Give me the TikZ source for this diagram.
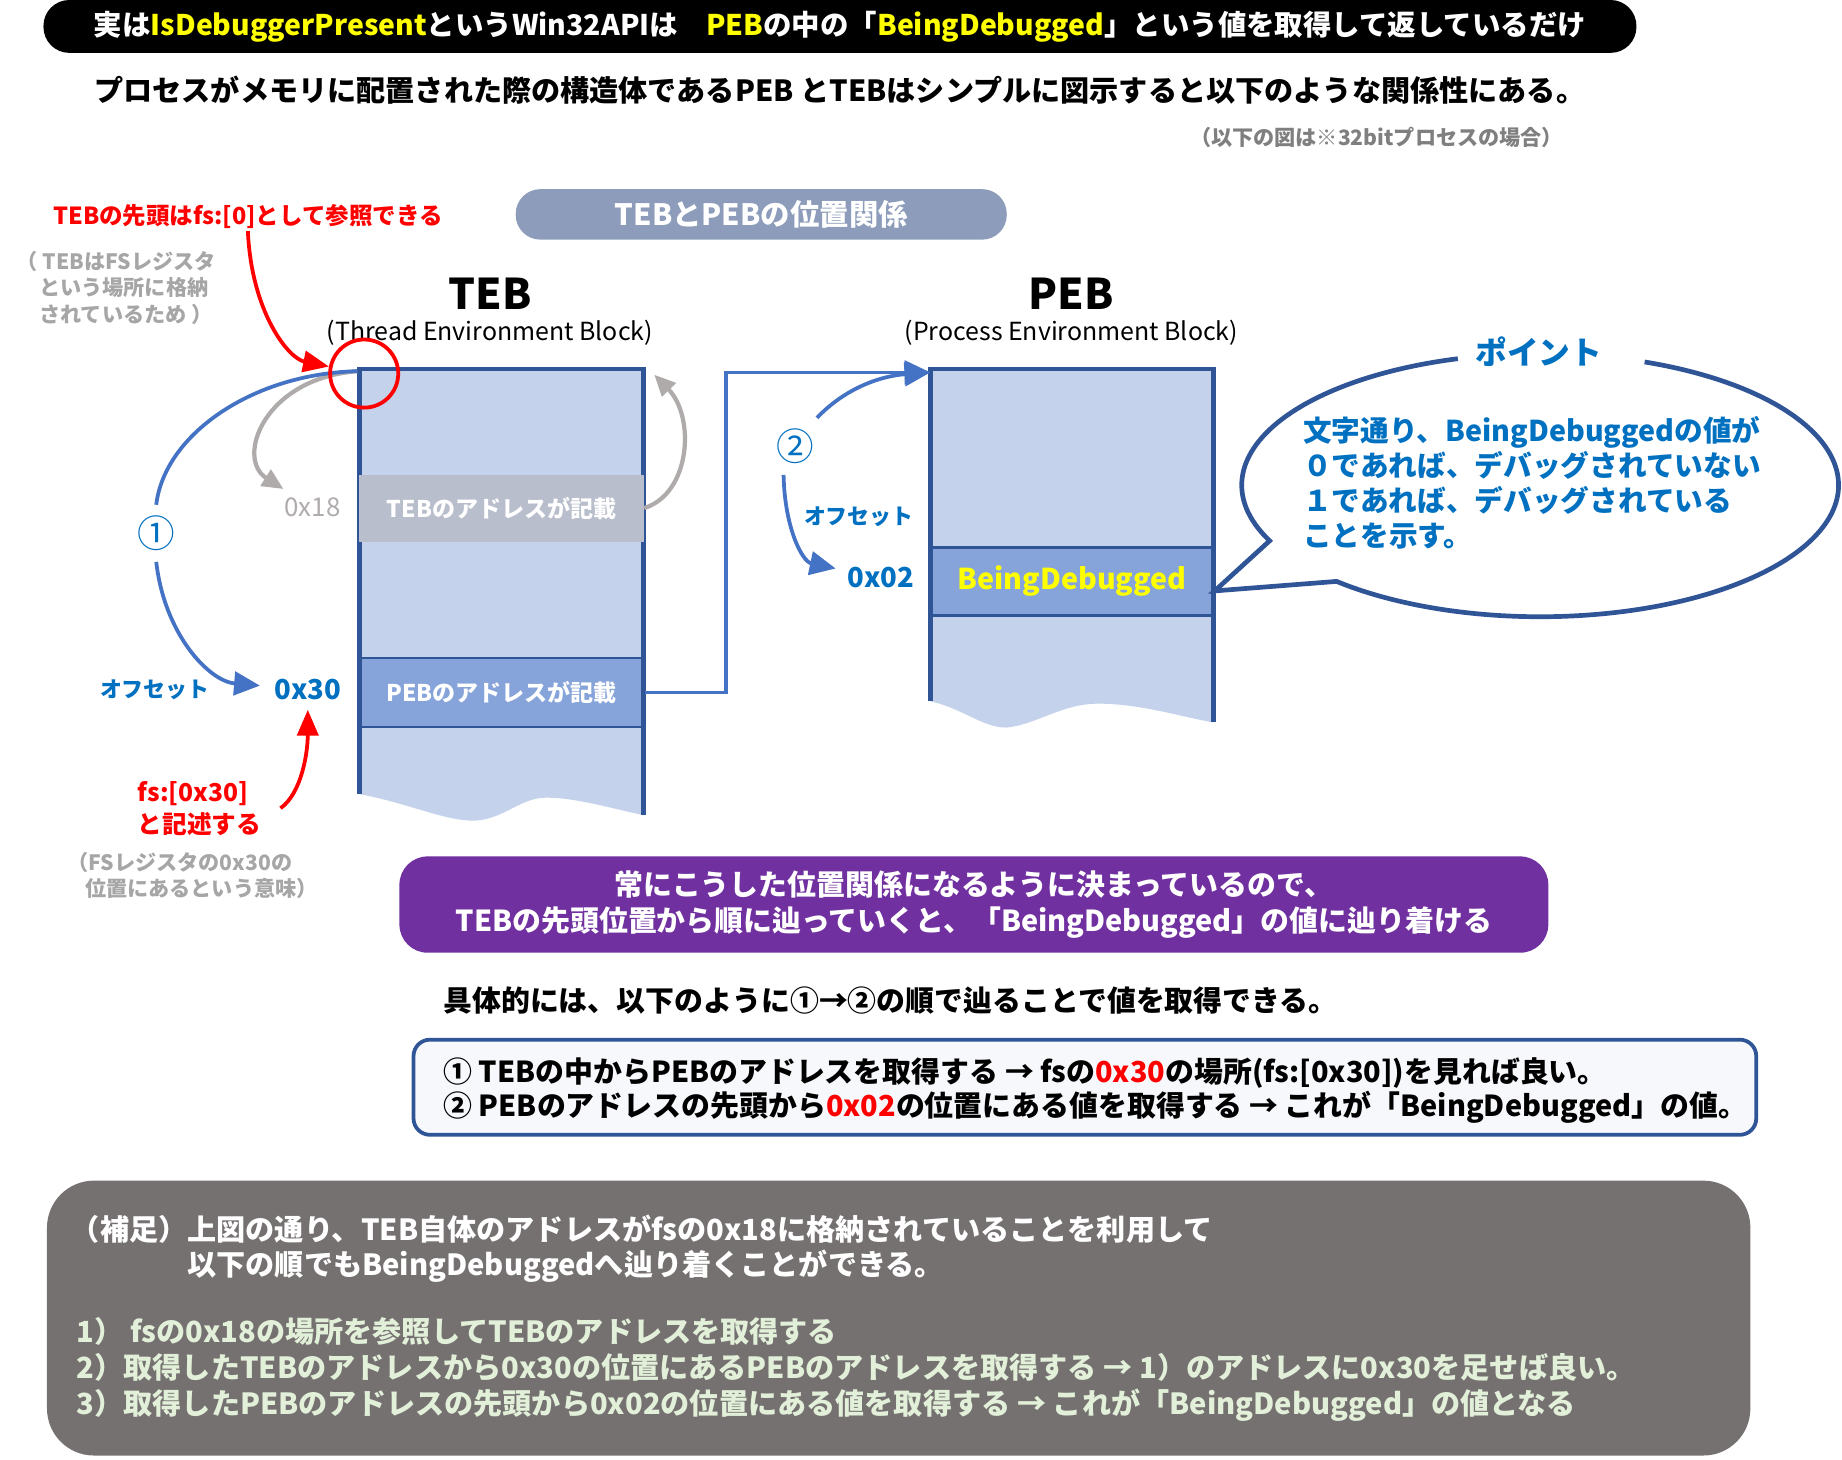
\documentclass[tikz,border=0pt]{standalone}
\usepackage{fontspec}
\setmainfont{Noto Sans CJK JP}
\usepackage{tikz}
\usetikzlibrary{arrows.meta, positioning}
\definecolor{boxfill}{HTML}{C4D3EB}
\definecolor{rowblue}{HTML}{86A4D9}
\definecolor{rowgray}{HTML}{B8BECB}
\definecolor{boxline}{HTML}{2F5597}
\definecolor{arrblue}{HTML}{4472C4}
\definecolor{txtblue}{HTML}{0070C0}
\definecolor{pillgray}{HTML}{8D9CBA}
\definecolor{notegray}{HTML}{767171}
\definecolor{notegreen}{HTML}{E2F0D9}
\definecolor{ltgray}{HTML}{A6A6A6}
\definecolor{midgray}{HTML}{7F7F7F}
\definecolor{arrgray}{HTML}{AFABAB}
\definecolor{stepfill}{HTML}{F7F8FC}
\definecolor{purp}{HTML}{7030A0}
\definecolor{yel}{HTML}{FFFF00}
\definecolor{redc}{HTML}{FF0000}
\newcommand{\fsz}[2]{\fontsize{#1}{#2}\selectfont}

\begin{document}
\begin{tikzpicture}[x=0.5pt, y=-0.5pt, font=\bfseries,
  brd/.style={draw=boxline, line width=2pt},
  row/.style={minimum width=121pt, minimum height=29pt, inner sep=0pt, text=white, font=\fsz{9.8}{12}\bfseries},
  bline/.style={draw=arrblue, line width=1.6pt},
  barrow/.style={bline, -{Triangle[length=11pt, width=10pt]}},
  garrow/.style={draw=arrgray, line width=1.8pt, -{Triangle[length=9pt, width=8pt]}},
  rarrow/.style={draw=redc, line width=1.6pt, -{Triangle[length=11pt, width=9pt]}},
  hex/.style={text=txtblue, font=\fsz{11.7}{14}\bfseries, inner sep=2pt},
  offs/.style={text=txtblue, font=\fsz{9.3}{11}\bfseries},
  circ/.style={text=txtblue, font=\fsz{16}{17}\mdseries, inner xsep=1pt, inner ysep=4.5pt},
  note/.style={text=ltgray, font=\fsz{9}{11.25}\bfseries, align=left, inner sep=0pt}]
\useasboundingbox (0,0) rectangle (1568,1242);

\node[fill=black, rounded corners=11pt, minimum width=678pt, minimum height=22.5pt, text=white, font=\fsz{12.1}{14}\bfseries] (title) at (715,22.5) {実は\textcolor{yel}{IsDebuggerPresent}というWin32APIは\hspace{1em}\textcolor{yel}{PEB}の中の「\textcolor{yel}{BeingDebugged}」という値を取得して返しているだけ};
\node[anchor=west, inner sep=0pt, font=\fsz{12.4}{14}\bfseries] (sub) at (80,77) {プロセスがメモリに配置された際の構造体であるPEB とTEBはシンプルに図示すると以下のような関係性にある。};
\node[anchor=east, inner sep=0pt, text=midgray, font=\fsz{9}{11}\bfseries] (case) at (1331,117) {（以下の図は※32bitプロセスの場合）};
\node[fill=pillgray, rounded corners=10.5pt, minimum width=209pt, minimum height=21.5pt, text=white, font=\fsz{12.5}{14}\bfseries] (pill) at (648,182.5) {TEBとPEBの位置関係};

\node[text=redc, font=\fsz{10}{12}\bfseries, inner sep=1pt] (fsref) at (211,184) {TEBの先頭はfs:[0]として参照できる};
\node[note, anchor=west] (fsnote) at (14,245) {（ TEBはFSレジスタ\\\hspace*{9.5pt}という場所に格納\\\hspace*{9.5pt}されているため ）};

\node[font=\fsz{18}{20}\bfseries] (tebt) at (417,250) {TEB};
\node[font=\fsz{10.6}{13}\mdseries, below=-2.5pt of tebt] (tebsub) {(Thread Environment Block)};
\node[font=\fsz{18}{20}\bfseries] (pebt) at (912,250) {PEB};
\node[font=\fsz{10.6}{13}\mdseries, below=-2.5pt of pebt] (pebsub) {(Process Environment Block)};

\fill[boxfill] (306,314) -- (548,314) -- (548,694) .. controls (520,688) and (490,679) .. (465,679) .. controls (445,679) and (432,694) .. (410,698) .. controls (385,702) and (350,684) .. (306,676) -- cycle;
\fill[boxfill] (792,314) -- (1033,314) -- (1033,615) .. controls (1005,610) and (970,599) .. (935,599) .. controls (905,599) and (885,615) .. (860,619) .. controls (840,622) and (820,603) .. (792,597) -- cycle;
\node[row, fill=rowblue, draw=boxline, line width=1pt, minimum height=29.5pt] (pebaddr) at (427,589.5) {PEBのアドレスが記載};
\node[row, fill=rowblue, draw=boxline, line width=1pt, minimum width=120.5pt, text=yel, font=\fsz{12.2}{15}\bfseries] (bdrow) at (912.5,495) {BeingDebugged};
\draw[brd] (306,676) -- (306,314) -- (548,314) -- (548,694);
\draw[brd] (792,597) -- (792,314) -- (1033,314) -- (1033,615);
\node[row, fill=rowgray, minimum height=28.5pt] (tebaddr) at (427,432.5) {TEBのアドレスが記載};

\coordinate (tebtl) at (304,316);
\coordinate (tebtr) at (557,319);
\coordinate (pebtl) at (792,317);
\draw[barrow] (pebaddr.east) -- ++(69,0) |- (pebtl);

\node[hex] (x30) at (262,587) {0x30};
\node[offs, left=22pt of x30] (off1) {オフセット};
\node[circ] (n1) at (133,454) {①};
\node[hex, text=arrgray, font=\fsz{11}{13}\mdseries] (x18) at (266,432) {0x18};
\draw[garrow, shorten >=3pt] (tebtl) .. controls (225,322) and (200,390) .. (x18);
\draw[garrow] (tebaddr.east) .. controls (588,420) and (592,355) .. (tebtr);
\draw[bline] (tebtl) .. controls (215,318) and (140,370) .. (n1.north);
\draw[barrow, shorten >=4pt] (n1.south) .. controls (140,540) and (178,580) .. (x30);

\node[draw=redc, line width=1.6pt, circle, minimum size=29pt, inner sep=0pt] (hd) at (310,318) {};
\draw[rarrow] (fsref.south) .. controls (214,265) and (245,305) .. (hd);
\node[text=redc, font=\fsz{10.5}{13.5}\bfseries, align=left, inner sep=0pt, anchor=west] (fsdesc) at (117,688) {fs:[0x30]\\と記述する};
\draw[rarrow, shorten >=2pt] ([xshift=8pt]fsdesc.east) .. controls (257,675) and (262,640) .. (x30.south);
\node[note, anchor=west] (fsmean) at (57,745) {（FSレジスタの0x30の\\\hspace*{7.5pt}位置にあるという意味）};

\node[circ] (n2) at (677,380) {②};
\node[hex] (x02) at (750,492) {0x02};
\node[offs] (off2) at (731,440) {オフセット};
\draw[barrow] (n2.north east) .. controls (720,330) and (750,320) .. (pebtl);
\draw[barrow, shorten >=3pt] ([xshift=-5pt]n2.south) .. controls (668,450) and (683,478) .. (x02);

\coordinate (bub) at (1311,413);
\draw[draw=boxline, line width=2pt] ([shift={(290.5:254 and 112)}]bub) arc[start angle=290.5, end angle=493, x radius=254, y radius=112] -- ([yshift=-4pt]bdrow.east) -- ([shift={(155:254 and 112)}]bub) arc[start angle=155, end angle=254, x radius=254, y radius=112];
\node[text=txtblue, font=\fsz{13.5}{15}\bfseries] (point) at (1310,299) {ポイント};
\node[anchor=west, align=left, inner sep=0pt, text=txtblue, font=\fsz{12.2}{15}\bfseries] (pointtxt) at (1109,411) {文字通り、BeingDebuggedの値が\\０であれば、デバッグされていない\\１であれば、デバッグされている\\ことを示す。};

\node[fill=purp, rounded corners=12pt, minimum width=489pt, minimum height=41pt, text=white, align=center, font=\fsz{12.3}{15}\bfseries] (always) at (829,770) {常にこうした位置関係になるように決まっているので、\\TEBの先頭位置から順に辿っていくと、「BeingDebugged」の値に辿り着ける};
\node[anchor=west, inner sep=0pt, font=\fsz{12.3}{14}\bfseries] (concrete) at (377,852) {具体的には、以下のように①→②の順で辿ることで値を取得できる。};
\node[draw=boxline, line width=1.6pt, fill=stepfill, rounded corners=7pt, minimum width=571.5pt, minimum height=40.5pt] (steps) at (923.5,925.5) {};
\node[anchor=west, align=left, inner sep=0pt, font=\fsz{12.3}{14.5}\bfseries] (stepstxt) at (377,928) {① TEBの中からPEBのアドレスを取得する → fsの\textcolor{redc}{0x30}の場所(fs:[0x30])を見れば良い。\\② PEBのアドレスの先頭から\textcolor{redc}{0x02}の位置にある値を取得する → これが「BeingDebugged」の値。};

\node[fill=notegray, rounded corners=20pt, minimum width=725pt, minimum height=117pt] (supp) at (765,1122) {};
\node[anchor=west, align=left, inner sep=0pt, text=white, font=\fsz{12.4}{15}\bfseries] (supptxt) at (60,1063) {（補足）上図の通り、TEB自体のアドレスがfsの0x18に格納されていることを利用して\\\phantom{（補足）}以下の順でもBeingDebuggedへ辿り着くことができる。};
\node[anchor=west, align=left, inner sep=0pt, text=notegreen, font=\fsz{12.4}{15.25}\bfseries] (supplist) at (65,1165.5) {1） fsの0x18の場所を参照してTEBのアドレスを取得する\\2）取得したTEBのアドレスから0x30の位置にあるPEBのアドレスを取得する → 1）のアドレスに0x30を足せば良い。\\3）取得したPEBのアドレスの先頭から0x02の位置にある値を取得する → これが「BeingDebugged」の値となる};
\end{tikzpicture}
\end{document}
